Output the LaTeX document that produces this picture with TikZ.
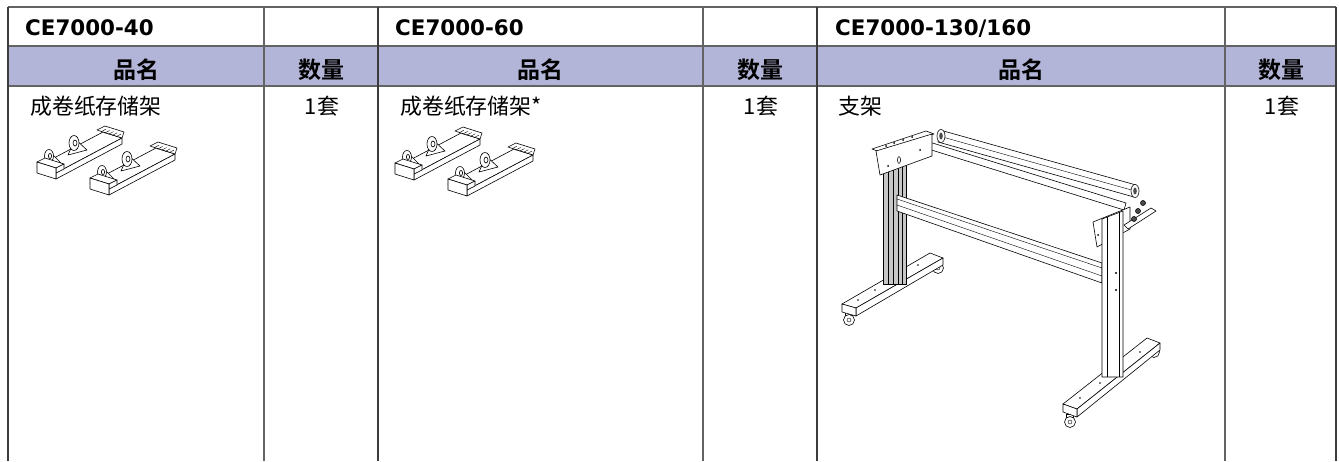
\documentclass[tikz,border=0pt]{standalone}
\usepackage{fontspec}
\usepackage{tikz}
\setmainfont{DejaVu Sans}
\newfontfamily\cjk{Noto Sans CJK SC}[BoldFont={Noto Sans CJK SC Bold}]
\definecolor{headblue}{RGB}{179,181,216}
\definecolor{gridgray}{RGB}{60,60,60}

\newcommand{\rollholder}[2]{%
 \begin{scope}[shift={(#1,#2)}]
   \filldraw[part] (0,0) -- (66,-35) -- (85,-29) -- (19,6) -- cycle;
   \filldraw[part] (19,6) -- (85,-29) -- (85,-23) -- (19,12) -- cycle;
   \filldraw[part] (60,-37) -- (68,-41) -- (87,-35) -- (85,-29) -- (66,-35) -- cycle;
   \foreach \k in {0.15,0.35,0.55,0.75,0.95}
     \draw[detail] ({61+19*\k},{-36+6*\k}) -- ++(5,-2.7);
   \filldraw[part] (31,-12) -- (38,-28) -- (50,-17) -- cycle;
   \filldraw[part] (37,-24) ellipse (5 and 7.5);
   \filldraw[part] (38,-24) ellipse (2 and 3);
   \filldraw[part] (8,-2) -- (13,-15) -- (24,-4) -- cycle;
   \filldraw[part] (12,-11) ellipse (4.5 and 6.5);
   \filldraw[part] (13,-11) ellipse (1.6 and 2.6);
   \filldraw[part] (0,-5) -- (8,-9) -- (27,-3) -- (19,1) -- cycle;
   \filldraw[part] (19,1) -- (27,-3) -- (27,2) -- (19,6) -- cycle;
   \filldraw[part] (0,-5) -- (19,1) -- (19,12) -- (0,6) -- cycle;
 \end{scope}}

\begin{document}
\begin{tikzpicture}[x=1pt,y=-1pt,line join=round]
 \tikzstyle{every node}=[inner sep=0pt]
 \tikzstyle{model}=[anchor=base west,font=\fontsize{21.4}{25}\selectfont\bfseries]
 \tikzstyle{head}=[anchor=base,font=\cjk\fontsize{23}{26}\selectfont\bfseries]
 \tikzstyle{item}=[anchor=base west,font=\cjk\fontsize{21.9}{25}\selectfont]
 \tikzstyle{qty}=[anchor=base,font=\cjk\fontsize{21.9}{25}\selectfont]
 \tikzstyle{outerline}=[line width=1.8pt,draw=gridgray]
 \tikzstyle{innerline}=[line width=1.3pt,draw=gridgray!80]
 \tikzstyle{part}=[fill=white,draw=black,line width=0.6pt]
 \tikzstyle{detail}=[draw=black,line width=0.4pt]

 \useasboundingbox (0,0) rectangle (1339,461);

 % table
 \fill[headblue] (8,46) rectangle (1336,86);
 \draw[innerline] (8,7) -- (1336,7) (8,46) -- (1336,46) (8,86) -- (1336,86);
 \foreach \x in {264,703,1225} \draw[innerline] (\x,7) -- (\x,461);
 \foreach \x in {8,378,817,1336} \draw[outerline] (\x,7) -- (\x,461);

 \node[model] (m40) at (25,35) {CE7000-40};
 \node[model] (m60) at (395,35) {CE7000-60};
 \node[model] (m160) at (835,35) {CE7000-130/160};

 \node[head] (name40) at (136,78) {品名};
 \node[head] (num40) at (321,78) {数量};
 \node[head] (name60) at (540,78) {品名};
 \node[head] (num60) at (760,78) {数量};
 \node[head] (name160) at (1021,78) {品名};
 \node[head] (num160) at (1281,78) {数量};

 \node[item] (item40) at (30,114) {成卷纸存储架};
 \node[qty] (qty40) at (322,114) {1套};
 \node[item] (item60) at (400,114) {成卷纸存储架*};
 \node[qty] (qty60) at (761,114) {1套};
 \node[item] (item160) at (838,114) {支架};
 \node[qty] (qty160) at (1282,114) {1套};

 % roll holders
 \rollholder{37}{167}
 \rollholder{90}{183}
 \rollholder{395}{168}
 \rollholder{448}{184}

 % stand
 \foreach \p in {(849,320),(938,268),(1070,422),(1154,352)} {
   \filldraw[part] \p +(-3.5,-8) rectangle +(3.5,-2);
   \filldraw[part] \p circle (5.5);
   \draw[detail] \p circle (2);
 }
 \filldraw[part] (842,304) -- (930,253) -- (943,258) -- (856,308) -- cycle;
 \filldraw[part] (856,308) -- (943,258) -- (943,265) -- (856,316) -- cycle;
 \filldraw[part] (842,304) -- (856,308) -- (856,316) -- (842,312) -- cycle;
 \filldraw[part] (1063,404) -- (1147,338) -- (1160,343) -- (1077,409) -- cycle;
 \filldraw[part] (1077,409) -- (1160,343) -- (1160,350) -- (1077,417) -- cycle;
 \filldraw[part] (1063,404) -- (1077,409) -- (1077,417) -- (1063,412) -- cycle;
 \foreach \p in {(858,300),(875,290),(918,265),(1080,398),(1100,383),(1140,352)}
   \fill \p circle (0.8);

 \filldraw[part] (940,130) -- (1136,185) -- (1134,197) -- (938,142) -- cycle;
 \draw[detail] (939,136) -- (1135,191);
 \filldraw[part] (926,141) -- (1126,203) -- (1124,210) -- (925,148) -- cycle;
 \foreach \p in {(941,136),(1135,191)} {
   \filldraw[part] \p ellipse (4 and 6.5);
   \fill[black!70] \p ellipse (1.8 and 3.5);
 }

 \filldraw[part,fill=gray!45] (883,160) rectangle (906,284);
 \foreach \x in {888,893,898,902} \draw[detail] (\x,160) -- (\x,284);

 \filldraw[part] (897,195) -- (1102,263) -- (1102,283) -- (897,211) -- cycle;
 \draw[detail] (897,199) -- (1102,268) (897,205) -- (1102,276);

 \filldraw[part] (872,149) -- (926,131) -- (934,134) -- (880,152) -- cycle;
 \filldraw[part] (876,151) -- (932,134) -- (932,156) -- (880,175) -- cycle;
 \filldraw[part] (899,160) ellipse (1.5 and 3.5);
 \foreach \p in {(886,146),(894,143),(903,140),(912,137),(888,166),(920,150)}
   \fill \p circle (1);

 \filldraw[part] (1093,222) -- (1130,207) -- (1130,229) -- (1097,247) -- cycle;
 \filldraw[part] (1124,225) -- (1151,208) -- (1156,211) -- (1128,229) -- cycle;
 \foreach \p in {(1138,211),(1143,203),(1134,219)} \filldraw[part,fill=black!70] \p circle (2.5);
 \foreach \p in {(1098,235),(1110,222),(1120,217)} \fill \p circle (1);

 \filldraw[part] (1102,219) -- (1123,211) -- (1123,377) -- (1102,377) -- cycle;
 \draw[detail] (1107,217) -- (1107,377) (1119,212) -- (1119,377);
 \fill (1116,273) circle (1.2) (1116,290) circle (1.2);
\end{tikzpicture}
\end{document}
